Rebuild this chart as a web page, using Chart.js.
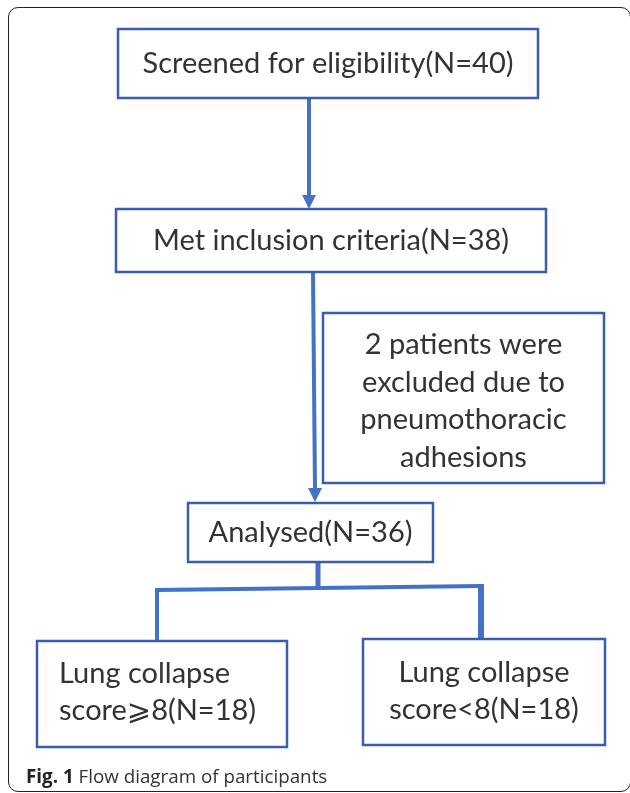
<!DOCTYPE html>
<html lang="en">
<head>
  <meta charset="UTF-8" />
  <title>Flow diagram of participants</title>
  <script src="https://cdn.jsdelivr.net/npm/chart.js"></script>
  <style>
    body {
      margin: 0;
      background: #fff;
    }
    #wrap {
      position: relative;
      width: 630px;
      height: 793px;
      overflow: hidden;
    }
    #frame {
      position: absolute;
      left: 8px;
      top: 7px;
      width: 623px;
      height: 785px;
      border: 1.5px solid #222;
      border-radius: 10px;
      box-sizing: border-box;
    }
    #caption {
      position: absolute;
      left: 26px;
      top: 763px;
      line-height: 26px;
      font-family: 'Open Sans', sans-serif;
      font-size: 18.8px;
      color: #333;
    }
    #caption b { color: #222; }
    canvas { position: absolute; left: 0; top: 0; }
  </style>
</head>
<body>

<div id="wrap">
  <div id="frame"></div>
  <canvas id="flowChart" width="630" height="793"></canvas>
  <div id="caption"><b>Fig. 1</b> Flow diagram of participants</div>
</div>

<script>
  // flow data
  const stageLabels = ['Screened for eligibility', 'Met inclusion criteria', 'Analysed'];
  const stageCounts = [40, 38, 36];
  const excludedCount = 2;
  const excludedReason = ['excluded due to', 'pneumothoracic', 'adhesions'];
  const groupLabels = ['score\u2A7E8', 'score<8'];
  const groupCounts = [18, 18];

  // layout in scale units (the scales span the whole canvas)
  const boxes = [
    { x0: 118, y0: 29, x1: 538, y1: 98, align: 'center', dy: 0 },
    { x0: 116, y0: 209, x1: 546, y1: 272, align: 'center', dy: 0 },
    { x0: 323, y0: 313, x1: 604, y1: 483, align: 'center', dy: 3 },
    { x0: 188, y0: 503, x1: 433, y1: 562, align: 'center', dy: 0 },
    { x0: 37, y0: 641, x1: 287, y1: 747, align: 'left', dy: -2 },
    { x0: 363, y0: 639, x1: 605, y1: 745, align: 'center', dy: -1 }
  ];
  const boxText = [
    [`${stageLabels[0]}(N=${stageCounts[0]})`],
    [`${stageLabels[1]}(N=${stageCounts[1]})`],
    [`${excludedCount} patients were`, ...excludedReason],
    [`${stageLabels[2]}(N=${stageCounts[2]})`],
    ['Lung collapse', `${groupLabels[0]}(N=${groupCounts[0]})`],
    ['Lung collapse', `${groupLabels[1]}(N=${groupCounts[1]})`]
  ];
  const connectors = [
    { pts: [{ x: 309, y: 98 }, { x: 309, y: 196 }], w: 4 },
    { pts: [{ x: 313, y: 272 }, { x: 315, y: 490 }], w: 4 },
    { pts: [{ x: 318, y: 562 }, { x: 318, y: 588 }], w: 5 },
    { pts: [{ x: 157, y: 641 }, { x: 157, y: 590 }, { x: 481, y: 586 }], w: 4 },
    { pts: [{ x: 481, y: 584 }, { x: 481, y: 639 }], w: 6 }
  ];
  const arrowTips = [{ x: 309, y: 209 }, { x: 315, y: 502 }];

  const BLUE_LINE = '#4472c4';
  const BLUE_BOX = '#3a5eab';

  const flowPlugin = {
    id: 'flowBoxes',
    afterDatasetsDraw(chart) {
      const { ctx, scales: { x, y } } = chart;
      ctx.save();

      // arrow heads
      ctx.fillStyle = BLUE_LINE;
      arrowTips.forEach(t => {
        const px = x.getPixelForValue(t.x), py = y.getPixelForValue(t.y);
        ctx.beginPath();
        ctx.moveTo(px, py);
        ctx.lineTo(px - 7, py - 14);
        ctx.lineTo(px + 7, py - 14);
        ctx.closePath();
        ctx.fill();
      });

      boxes.forEach((b, i) => {
        const l = x.getPixelForValue(b.x0), r = x.getPixelForValue(b.x1);
        const t = y.getPixelForValue(b.y0), btm = y.getPixelForValue(b.y1);
        ctx.fillStyle = '#fff';
        ctx.fillRect(l, t, r - l, btm - t);
        ctx.strokeStyle = BLUE_BOX;
        ctx.lineWidth = 2.5;
        ctx.strokeRect(l, t, r - l, btm - t);

        const lines = boxText[i];
        const lh = i === 2 ? 37.5 : 37;
        const cy = (t + btm) / 2 + b.dy;
        ctx.fillStyle = '#333';
        ctx.font = '29px Lato, "DejaVu Sans", sans-serif';
        ctx.textBaseline = 'middle';
        ctx.textAlign = b.align === 'left' ? 'left' : 'center';
        const tx = b.align === 'left' ? l + 22 : (l + r) / 2;
        lines.forEach((s, k) => {
          ctx.fillText(s, tx, cy + (k - (lines.length - 1) / 2) * lh);
        });
      });
      ctx.restore();
    }
  };

  new Chart(document.getElementById('flowChart'), {
    type: 'scatter',
    data: {
      datasets: connectors.map(c => ({
        data: c.pts,
        showLine: true,
        borderColor: BLUE_LINE,
        borderWidth: c.w,
        pointRadius: 0,
        fill: false
      }))
    },
    options: {
      responsive: false,
      animation: false,
      layout: { padding: 0 },
      plugins: { legend: { display: false }, tooltip: { enabled: false } },
      scales: {
        x: { type: 'linear', min: 0, max: 630, display: false },
        y: { type: 'linear', min: 0, max: 793, reverse: true, display: false }
      }
    },
    plugins: [flowPlugin]
  });
</script>

</body>
</html>
